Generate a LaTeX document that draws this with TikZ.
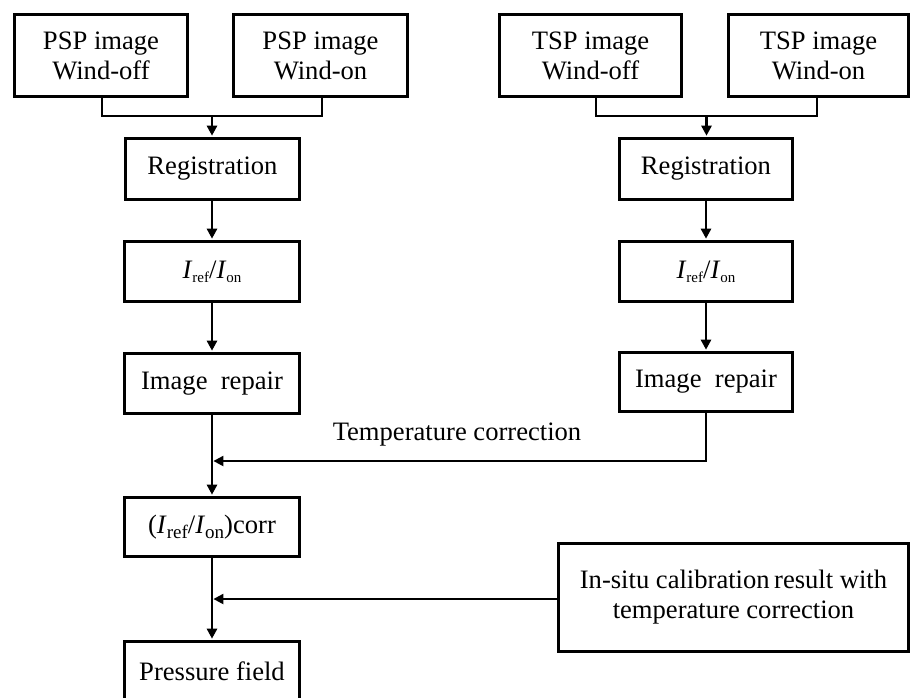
\documentclass[tikz,border=0pt]{standalone}
\usepackage{fontspec}
\setmainfont{Liberation Serif}
\usetikzlibrary{arrows.meta}
\newcommand{\IsubA}[1]{\textit{I}\raisebox{-0.35ex}{\fontsize{15}{15}\selectfont #1}}
\newcommand{\IsubB}[1]{\textit{I}\raisebox{-0.45ex}{\fontsize{19}{19}\selectfont #1}}
\tikzset{
  box/.style={draw=black, line width=3.6pt, rectangle, inner sep=0pt, align=center,
    font=\fontsize{26.6}{30}\selectfont, minimum height=60pt},
  conn/.style={draw=black, line width=2.8pt},
  tconn/.style={draw=black, line width=2.2pt},
  arr/.style={-{Triangle[length=10pt,width=10pt]}, shorten >=1pt},
  lbl/.style={font=\fontsize{26.6}{30}\selectfont, inner sep=0pt}
}
\begin{document}
\begin{tikzpicture}[x=1pt,y=-1pt]
\clip (0,0) rectangle (912,697);
\fill[white] (0,0) rectangle (912,697);
% top boxes
\node[box, minimum width=173pt, minimum height=82pt] (pspoff) at (101,55.5) {PSP image\\Wind-off};
\node[box, minimum width=174pt, minimum height=82pt] (pspon) at (320.5,55.5) {PSP image\\Wind-on};
\node[box, minimum width=182pt, minimum height=82pt] (tspoff) at (590.5,55.5) {TSP image\\Wind-off};
\node[box, minimum width=180pt, minimum height=82pt] (tspon) at (818.5,55.5) {TSP image\\Wind-on};
% PSP column
\node[box, minimum width=174pt, minimum height=61pt] (reg1) at (212.5,169) {Registration};
\node[box, minimum width=175pt] (ratio1) at (212,271.5) {\IsubA{ref}/\IsubA{on}};
\node[box, minimum width=175pt] (repair1) at (212,383.5) {Image\ \ repair};
\node[box, minimum width=175pt, minimum height=59pt] (corr) at (212,527) {(\IsubB{ref}/\IsubB{on})corr};
\node[box, minimum width=175pt] (press) at (212,671.5) {Pressure field};
% TSP column
\node[box, minimum width=173pt, minimum height=61pt] (reg2) at (706,169) {Registration};
\node[box, minimum width=173pt] (ratio2) at (706,271.5) {\IsubA{ref}/\IsubA{on}};
\node[box, minimum width=173pt, minimum height=59pt] (repair2) at (706,382) {Image\ \ repair};
% in-situ box
\node[box, minimum width=350pt, minimum height=108pt] (insitu) at (733.5,597.5) {In-situ calibration\,result with\\temperature correction};
% junctions
\coordinate (jp) at (212,116);
\coordinate (jt) at (706.5,116);
\coordinate (tc) at (212,461);
\coordinate (ic) at (212,599);
% connectors
\draw[conn] ([xshift=1pt]pspoff.south) |- (jp) -| ([xshift=1.5pt]pspon.south);
\draw[conn,arr] (jp) -- (reg1.north -| jp);
\draw[conn] ([xshift=5.5pt]tspoff.south) |- (jt) -| ([xshift=-1.5pt]tspon.south);
\draw[conn,arr] (jt) -- (reg2.north -| jt);
\draw[conn,arr] (reg1.south -| ratio1) -- (ratio1.north);
\draw[conn,arr] (ratio1.south) -- (repair1.north);
\draw[conn,arr] (repair1.south) -- (corr.north);
\draw[conn,arr] (corr.south) -- (press.north);
\draw[conn,arr] (reg2.south) -- (ratio2.north);
\draw[conn,arr] (ratio2.south) -- (repair2.north);
\draw[tconn,arr,shorten >=1.4pt] (repair2.south) |- (tc);
\node[lbl] (tlabel) at (457,435) {Temperature correction};
\draw[tconn,arr,shorten >=1.4pt] (insitu.west |- ic) -- (ic);
\end{tikzpicture}
\end{document}
